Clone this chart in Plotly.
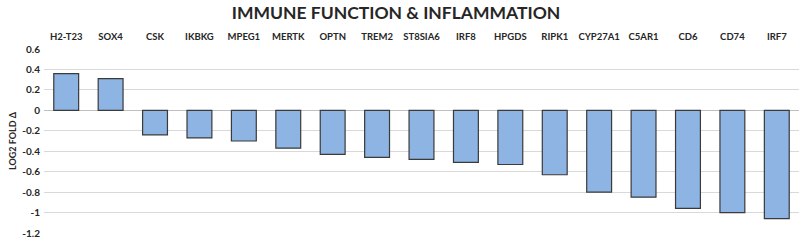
import plotly.graph_objects as go

genes = ["H2-T23", "SOX4", "CSK", "IKBKG", "MPEG1", "MERTK", "OPTN", "TREM2",
         "ST8SIA6", "IRF8", "HPGDS", "RIPK1", "CYP27A1", "C5AR1", "CD6", "CD74", "IRF7"]
log2_fold = [0.36, 0.31, -0.24, -0.27, -0.30, -0.37, -0.43, -0.46,
             -0.48, -0.51, -0.53, -0.63, -0.80, -0.85, -0.96, -1.00, -1.06]
y_ticks = [0.6, 0.4, 0.2, 0, -0.2, -0.4, -0.6, -0.8, -1, -1.2]
y_labels = ["0.6", "0.4", "0.2", "0", "-0.2", "-0.4", "-0.6", "-0.8", "-1", "-1.2"]

fig = go.Figure()
fig.add_trace(go.Bar(
    x=genes, y=log2_fold,
    marker=dict(color="#8db4e2", line=dict(color="#3a3a3a", width=1.2)),
))

fig.update_layout(
    width=800, height=240,
    margin=dict(l=44, r=1, t=49, b=7),
    paper_bgcolor="white", plot_bgcolor="white",
    font=dict(family="Lato", color="#262626"),
    bargap=0.44,
    showlegend=False,
    title=dict(text="<b>IMMUNE FUNCTION & INFLAMMATION</b>", x=0.495, xanchor="center",
               y=0.948, yanchor="middle", font=dict(size=17.5, color="#262626")),
)
fig.update_xaxes(side="top", showline=False, showgrid=False, ticks="", automargin=False,
                 tickvals=genes, ticktext=[f"<b>{g}</b>" for g in genes],
                 tickfont=dict(size=9.5), ticklabelstandoff=6)
fig.update_yaxes(range=[-1.2, 0.6], tickvals=y_ticks, ticktext=[f"<b>{t}</b>" for t in y_labels],
                 showgrid=True, gridcolor="#d9d9d9", gridwidth=1, automargin=False,
                 zeroline=True, zerolinecolor="#bfbfbf", zerolinewidth=1,
                 tickfont=dict(size=10), ticks="", ticklabelstandoff=3,
                 title=dict(text="<b>LOG2 FOLD Δ</b>", font=dict(size=9), standoff=4))

# page body has an 8px default margin, drop it so the figure fills the window
fig.write_html("out.html", config={"displayModeBar": False},
               post_script="document.body.style.margin='0px';")
